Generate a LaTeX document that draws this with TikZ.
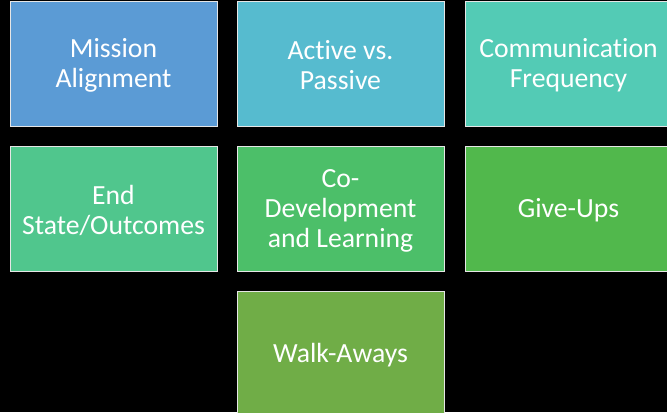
\documentclass[tikz,border=0pt]{standalone}
\usepackage{fontspec}
\setmainfont{Carlito}[Ligatures={NoCommon,NoRequired,NoContextual}]
\definecolor{cA}{HTML}{5B9BD5}
\definecolor{cB}{HTML}{56BBCF}
\definecolor{cC}{HTML}{53CBB5}
\definecolor{cD}{HTML}{50C68D}
\definecolor{cE}{HTML}{4CBF69}
\definecolor{cF}{HTML}{51B84C}
\definecolor{cG}{HTML}{70AD47}
\definecolor{edge}{HTML}{E6E6E6}
\begin{document}
\begin{tikzpicture}[x=1bp,y=-1bp,
  tile/.style={draw=edge, line width=0.8bp, minimum width=207bp, minimum height=125bp,
    inner sep=0pt},
  caption/.style={inner sep=0pt, align=center, text=white, yshift=-2bp,
    font=\fontsize{27.7bp}{30bp}\selectfont}]
  \useasboundingbox (0,0) rectangle (667,412);
  \fill[black] (0,0) rectangle (667,412);
  \clip (0,0) rectangle (667,412);
  % first row
  \node[tile, fill=cA] (missionbox) at (113.5,63.5) {};
  \node[caption] (mission) at (missionbox) {Mission\\Alignment};
  \node[tile, fill=cB] (activebox) at (340.5,63.5) {};
  \node[caption] (active) at (activebox) {Active vs.\\Passive};
  \node[tile, fill=cC] (commbox) at (568.5,63.5) {};
  \node[caption] (comm) at (commbox) {Communication\\Frequency};
  % second row
  \node[tile, fill=cD] (endbox) at (113.5,208.5) {};
  \node[caption] (endst) at (endbox) {End\\State/Outcomes};
  \node[tile, fill=cE] (codevbox) at (340.5,208.5) {};
  \node[caption] (codev) at (codevbox) {Co-\\Development\\and Learning};
  \node[tile, fill=cF] (givebox) at (568.5,208.5) {};
  \node[caption] (give) at (givebox) {Give-Ups};
  % third row
  \node[tile, fill=cG] (walkbox) at (340.5,353.5) {};
  \node[caption] (walk) at (walkbox) {Walk-Aways};
\end{tikzpicture}
\end{document}
